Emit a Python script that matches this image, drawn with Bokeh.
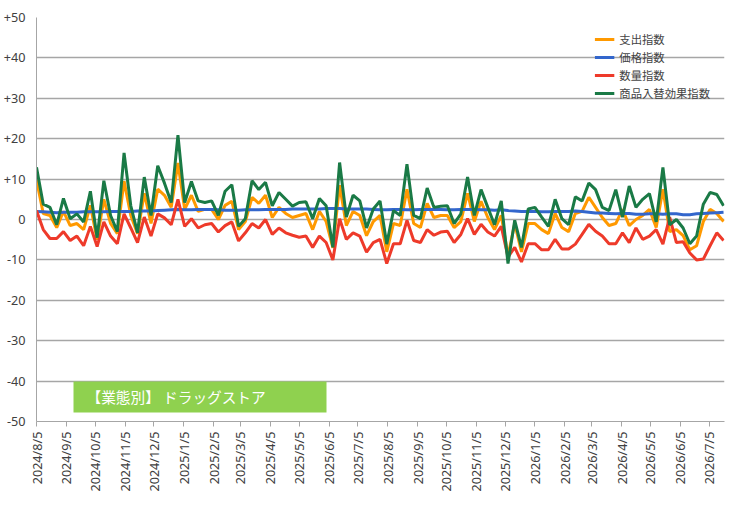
import datetime as dt
from bokeh.plotting import figure
from bokeh.models import FixedTicker, CustomJSTickFormatter, Range1d, Legend, LegendItem, Label, BoxAnnotation
from bokeh.embed import file_html
from bokeh.resources import INLINE

start = dt.datetime(2024, 8, 5)
spending = [9.8,1.5,1,-2,2,-1.5,-1,-2.5,3.5,-5,5,-1,-3.5,9.5,1,-3.5,6.5,-1,7.5,6,3,14,2.5,6,2,2.5,2.5,0,3.5,4.5,
            -2.5,-0.5,5.5,4,6,0.5,3,1.5,0.5,1,1.5,-2.5,2,-0.5,-7,8.5,-1.5,2,1,-4,-0.5,1,-8,-1,-1.5,7.5,-1,-2,4,0.5,
            1,1,-2,-0.5,6.5,-0.5,4.5,0.5,-2.5,1,-9,-1,-8,-1,-1,-2.5,-3.5,1.5,-2,-3,1.5,2,5.5,3,0.5,-1.5,-1,2.5,-1.5,0,
            1,2.5,-2,7.5,-3,-2.5,-4,-7.5,-6.5,-0.5,2.5,1.5,-0.5]
price = [2.0,1.9,1.8,1.7,1.8,1.8,1.8,1.9,1.9,1.9,1.9,2.0,2.0,2.0,2.0,2.1,2.1,2.1,2.2,2.3,2.4,2.5,2.4,2.4,2.5,2.5,2.5,2.4,2.3,2.3,
         2.3,2.4,2.4,2.4,2.5,2.5,2.5,2.5,2.6,2.6,2.6,2.6,2.6,2.7,2.7,2.7,2.6,2.6,2.6,2.6,2.5,2.4,2.4,2.5,2.5,2.4,2.4,2.5,2.5,2.5,
         2.5,2.4,2.4,2.5,2.5,2.5,2.4,2.4,2.3,2.4,2.2,2.1,2.0,2.0,2.0,1.9,1.9,2.0,2.0,2.0,2.1,2.0,1.8,1.6,1.6,1.5,1.4,1.5,1.5,1.3,
         1.3,1.4,1.4,1.3,1.4,1.4,1.2,1.2,1.4,1.5,1.6,1.7,1.8]
quantity = [2.2,-2.5,-4.7,-4.7,-3,-5.2,-4.1,-6.5,-1.7,-6.7,-0.6,-4.1,-6,1.4,-2.1,-5.7,0.6,-4.1,1.4,0.4,-1.3,5,-1.7,0.2,-2.1,-1.3,-1,-3.1,-1.5,-0.6,
            -5.3,-3.3,-1,-2.1,0,-3.7,-2.1,-3.3,-3.9,-4.4,-4.1,-6.9,-4.1,-5.7,-10,0.2,-4.9,-3.3,-4.1,-8.1,-5.7,-4.9,-10.9,-6,-6,-0.2,-5.2,-5.7,-2.5,-3.9,
            -3.1,-2.9,-5.7,-3.7,0.2,-3.7,-1.2,-3.1,-4.1,-1.7,-9.3,-6.9,-10.5,-6,-6,-7.5,-7.5,-4.9,-7.3,-7.3,-6.1,-3.7,-1.2,-2.9,-4.1,-6,-6,-3.3,-5.7,-2.1,
            -4.9,-4.1,-2.5,-6.1,0.6,-5.7,-5.5,-8.3,-10,-9.8,-6.5,-3.3,-5.2]
replacement = [12.9,3.8,3,-1.3,5.2,0.2,1.4,-0.6,7,-4.5,9.6,1,-3,16.5,3.4,-3.3,10.5,1,13.3,9,4.2,20.9,4.2,9.4,4.6,4.2,4.6,1,7,8.6,
               -1.7,0.2,9.6,7.4,9.2,3.4,6.7,5,3.3,4.2,4.4,0.2,5.2,3.4,-6.9,14.1,0.6,6,4.6,-2.1,2.6,4.6,-6.1,2.2,1,13.7,1,0.2,7.8,3,
               3.3,3.4,-1,1.4,10.5,1,7.4,3,-1.3,4.6,-10.9,-0.2,-6.9,2.6,3,0.6,-1.7,5,0.2,-1.3,5.6,4.6,9,7.4,3,2.2,7.4,0.6,8.3,3,
               5,6.4,-0.6,12.9,-1.3,0,-2.1,-6,-4.1,3.8,6.7,6.2,3.4]
series_names = ["支出指数", "価格指数", "数量指数", "商品入替効果指数"]
colors = ["#ff9900", "#3366cc", "#ee3a2a", "#1a7a46"]
y_ticks = [-50, -40, -30, -20, -10, 0, 10, 20, 30, 40, 50]
tick_labels = {t: (f"+{t}" if t > 0 else str(t)) for t in y_ticks}
title_text = "【業態別】 ドラッグストア"

dates = [start + dt.timedelta(weeks=i) for i in range(len(spending))]
month_ticks = [(dt.datetime(2024 + (7 + i) // 12, (7 + i) % 12 + 1, 5) - dt.datetime(1970, 1, 1)).total_seconds() * 1000 for i in range(24)]

p = figure(width=729, height=494, x_axis_type="datetime", output_backend="svg", toolbar_location=None,
           x_range=Range1d(start, dates[-1] + dt.timedelta(days=1)), y_range=Range1d(-50, 50),
           min_border_left=36, min_border_right=5, min_border_top=17, min_border_bottom=10)
p.outline_line_color = None
p.border_fill_color = "white"
p.xgrid.grid_line_color = None
p.ygrid.grid_line_color = "#a6a6a6"
p.ygrid.grid_line_width = 1.3
p.yaxis.ticker = FixedTicker(ticks=y_ticks)
p.yaxis.major_label_overrides = tick_labels
p.xaxis.ticker = FixedTicker(ticks=month_ticks)
p.xaxis.formatter = CustomJSTickFormatter(code="const d=new Date(tick);return d.getUTCFullYear()+'/'+(d.getUTCMonth()+1)+'/'+d.getUTCDate();")
p.xaxis.major_label_orientation = 1.5708
for ax in (p.xaxis, p.yaxis):
    ax.major_label_text_font = "Noto Sans"
    ax.major_label_text_font_size = "9.5pt"
    ax.major_label_text_color = "#404040"
    ax.axis_line_color = "#a6a6a6"
    ax.major_tick_line_color = "#a6a6a6"
    ax.minor_tick_line_color = None
p.yaxis.major_tick_line_color = None
p.xaxis.major_tick_out = 5
p.xaxis.major_tick_in = 0

items = []
for name, col, data in zip(series_names, colors, [spending, price, quantity, replacement]):
    r = p.line(dates, data, line_color=col, line_width=3)
    items.append(LegendItem(label=name, renderers=[r]))
leg = Legend(items=items, location="top_right", margin=14, background_fill_alpha=0, border_line_color=None,
             label_text_font="Noto Sans CJK JP", label_text_font_size="8.5pt", glyph_width=20,
             glyph_height=14, spacing=2, padding=4)
p.add_layout(leg, "center")
p.add_layout(BoxAnnotation(left=37, right=290, top=9, bottom=40, left_units="screen", right_units="screen",
                           top_units="screen", bottom_units="screen", fill_color="#8fd14f", fill_alpha=1, line_color=None))
p.add_layout(Label(x=50, y=25, x_units="screen", y_units="screen", text=title_text, text_baseline="middle",
                   text_color="white", text_font="Noto Sans CJK JP", text_font_size="11pt"))
open("out.html", "w").write(file_html(p, INLINE))
